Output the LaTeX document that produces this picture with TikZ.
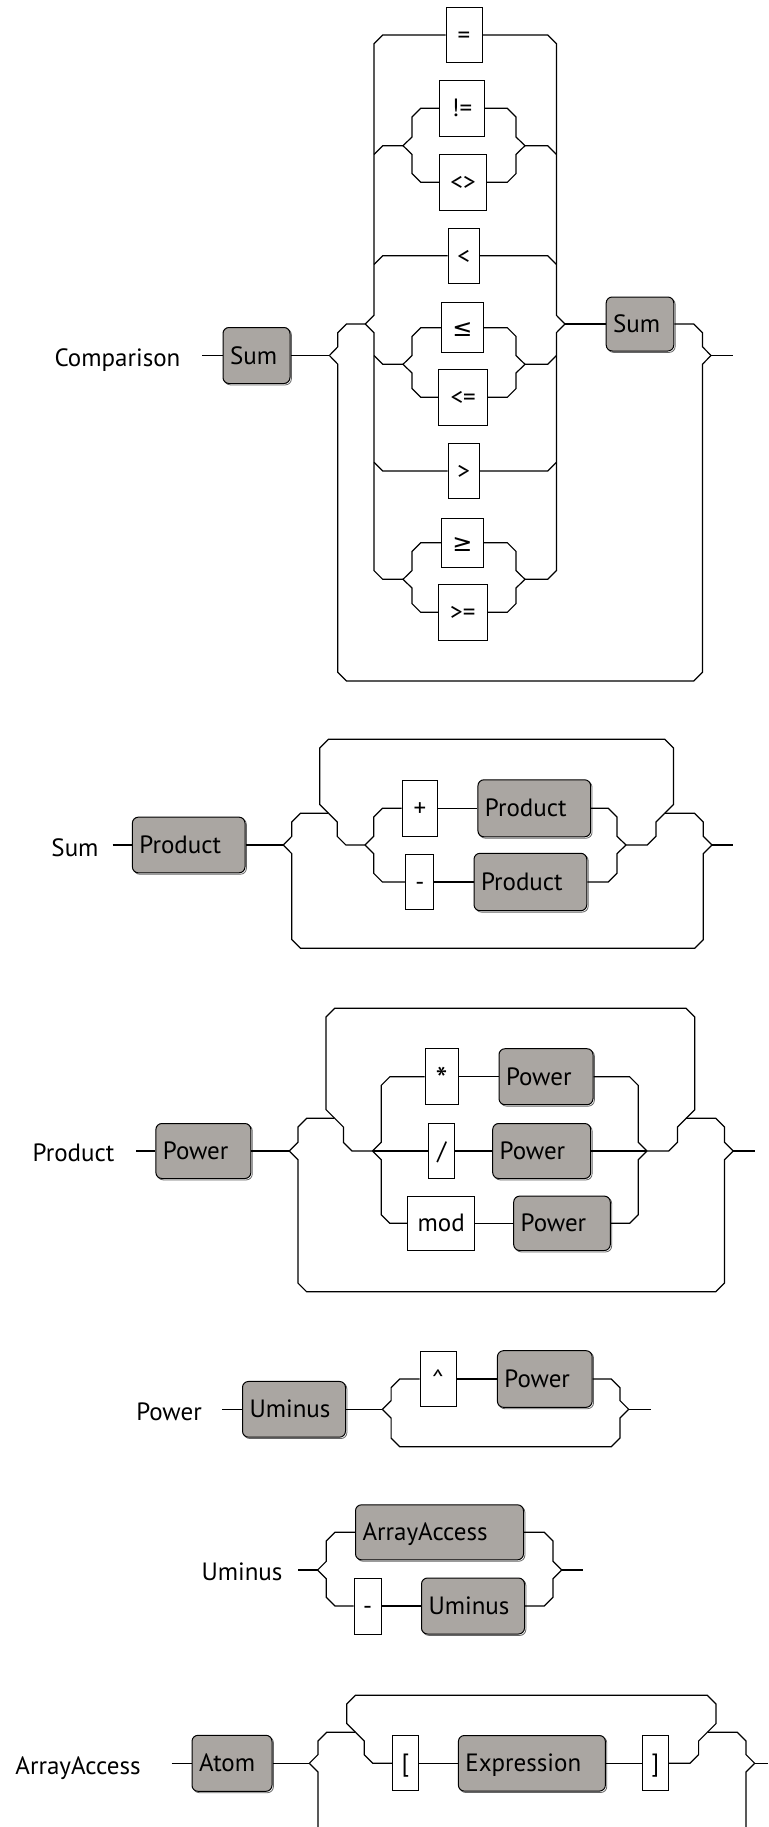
\documentclass[tikz,border=0pt]{standalone}
\usepackage{fontspec}
\setmainfont{PT Sans}
\newfontfamily\symf{DejaVu Sans}
\usetikzlibrary{shadows}
\definecolor{ntgray}{RGB}{170,166,162}
\begin{document}
\begin{tikzpicture}[x=1pt,y=-1pt,
  every node/.style={font=\fontsize{25}{30}\selectfont, inner sep=0pt},
  rail/.style={line width=1.2pt},
  lab/.style={text height=17pt, text depth=0pt},
  termb/.style={draw, fill=white, line width=1pt, text height=17pt, text depth=0pt},
  ntb/.style={draw, fill=ntgray, line width=1pt, rounded corners=6pt, text height=17pt, text depth=0pt,
     copy shadow={shadow xshift=1.4pt, shadow yshift=-1.4pt, draw=black!60, fill=white, line width=0.8pt}},
  tbox/.style 2 args={termb, minimum width=#1pt, minimum height=#2pt},
  nbox/.style 2 args={ntb, minimum width=#1pt, minimum height=#2pt, text width=#1pt-14pt, inner xsep=7pt, align=left},
]
\useasboundingbox (0,0) rectangle (768,1827);
\clip (0,0) rectangle (768,1827);
\fill[white] (0,0) rectangle (768,1827);

%%%%%%%%%%%%%%%% Comparison
\node[lab] (labComp) at (117.5,358) {Comparison};
\coordinate (cStart) at (202,355.5);
\node[nbox={67}{56}] (cSum1) at (256.5,355.5) {Sum};
\coordinate (cO1) at (329.4,355.5);
\coordinate (cI1) at (365.2,324);
\coordinate (cI2) at (565,324);
\node[nbox={67.6}{54}] (cSum2) at (640,324) {Sum};
\coordinate (cO2) at (711,355.5);
\coordinate (cEnd) at (733,355.5);

\node[tbox={36}{55}] (cEq) at (464,35) {=};
\node[tbox={44.6}{56}] (cNe) at (462,108.3) {!=};
\node[tbox={46.6}{55.7}] (cLg) at (463,182.3) {<>};
\node[tbox={31.4}{55}] (cLt) at (463.7,255.7) {<};
\node[tbox={41.6}{50}] (cLe) at (462.5,327.7) {{\symf\fontsize{24}{28}\selectfont ≤}};
\node[tbox={49}{55.7}] (cLe2) at (463.2,397.3) {<=};
\node[tbox={31.4}{55}] (cGt) at (463.7,471) {>};
\node[tbox={41.6}{48.7}] (cGe) at (462.5,542.7) {{\symf\fontsize{24}{28}\selectfont ≥}};
\node[tbox={49}{56}] (cGe2) at (462.8,612.3) {>=};

\coordinate (neL) at (403,145.7); \coordinate (neR) at (525,145.7);
\coordinate (leL) at (403,364.3); \coordinate (leR) at (525,364.3);
\coordinate (geL) at (403,579.3); \coordinate (geR) at (525,579.3);

\draw[rail] (cStart) -- (cSum1.west);
\draw[rail] (cSum1.east) -- (cO1);
\draw[rail] (cO1) -- (337.8,346.8) -- (337.8,332.7) -- (346.5,324) -- (cI1);
\draw[rail] (cO1) -- (337.8,364.2) -- (337.8,672.3) -- (346.5,681) -- (693.8,681) -- (702.5,672.3) -- (702.5,364.2) -- (cO2);
\draw[rail] (cI2) -- (cSum2.west);
\draw[rail] (cSum2.east) -- (693.8,324) -- (702.5,332.7) -- (702.5,346.8) -- (cO2);
\draw[rail] (cO2) -- (cEnd);

\draw[rail] (cI1) -- (374,315.3) -- (374,43.7) -- (382.7,35) -- (cEq.west);
\draw[rail] (cEq.east) -- (547.7,35) -- (556.4,43.7) -- (556.4,315.3) -- (cI2);
\draw[rail] (cI1) -- (374,332.7) -- (374,570.6) -- (382.7,579.3) -- (geL);
\draw[rail] (geR) -- (547.7,579.3) -- (556.4,570.6) -- (556.4,332.7) -- (cI2);
\draw[rail] (374,154.4) -- (382.7,145.7) -- (neL);
\draw[rail] (neR) -- (547.7,145.7) -- (556.4,154.4);
\draw[rail] (374,264.4) -- (382.7,255.7) -- (cLt.west);
\draw[rail] (cLt.east) -- (547.7,255.7) -- (556.4,264.4);
\draw[rail] (374,355.6) -- (382.7,364.3) -- (leL);
\draw[rail] (leR) -- (547.7,364.3) -- (556.4,355.6);
\draw[rail] (374,462.3) -- (382.7,471) -- (cGt.west);
\draw[rail] (cGt.east) -- (547.7,471) -- (556.4,462.3);

\draw[rail] (neL) -- (412,137) -- (412,117) -- (420.7,108.3) -- (cNe.west);
\draw[rail] (cNe.east) -- (507.3,108.3) -- (516,117) -- (516,137) -- (neR);
\draw[rail] (neL) -- (412,154.4) -- (412,173.6) -- (420.7,182.3) -- (cLg.west);
\draw[rail] (cLg.east) -- (507.3,182.3) -- (516,173.6) -- (516,154.4) -- (neR);

\draw[rail] (leL) -- (412,355.6) -- (412,336.4) -- (420.7,327.7) -- (cLe.west);
\draw[rail] (cLe.east) -- (507.3,327.7) -- (516,336.4) -- (516,355.6) -- (leR);
\draw[rail] (leL) -- (412,373) -- (412,388.6) -- (420.7,397.3) -- (cLe2.west);
\draw[rail] (cLe2.east) -- (507.3,397.3) -- (516,388.6) -- (516,373) -- (leR);

\draw[rail] (geL) -- (412,570.6) -- (412,551.4) -- (420.7,542.7) -- (cGe.west);
\draw[rail] (cGe.east) -- (507.3,542.7) -- (516,551.4) -- (516,570.6) -- (geR);
\draw[rail] (geL) -- (412,588) -- (412,603.6) -- (420.7,612.3) -- (cGe2.west);
\draw[rail] (cGe2.east) -- (507.3,612.3) -- (516,603.6) -- (516,588) -- (geR);

%%%%%%%%%%%%%%%% Sum
\node[lab] (labSum) at (75,847.5) {Sum};
\coordinate (sStart) at (112.7,845);
\node[nbox={112.6}{55.7}] (sP1) at (188.7,845) {Product};
\coordinate (sO1) at (283.3,845);
\coordinate (sJ1) at (328.5,813.3);
\coordinate (sI1) at (365,845);
\node[tbox={35.7}{56}] (sPlus) at (419.9,808.3) {+};
\node[nbox={112.7}{57}] (sP2) at (534.3,808.3) {Product};
\node[tbox={28}{55.3}] (sMinus) at (419.9,882) {-};
\node[nbox={112.8}{57.4}] (sP3) at (530.4,882) {Product};
\coordinate (sI2) at (626,845);
\coordinate (sJ2) at (664.7,813.3);
\coordinate (sO2) at (712,845);
\coordinate (sEnd) at (733.3,845);

\draw[rail] (sStart) -- (sP1.west);
\draw[rail] (sP1.east) -- (sO1);
\draw[rail] (sO1) -- (291.8,836.3) -- (291.8,822) -- (300.5,813.3) -- (sJ1);
\draw[rail] (sO1) -- (291.8,853.7) -- (291.8,939.6) -- (300.5,948.3) -- (694.6,948.3) -- (703.3,939.6) -- (703.3,853.7) -- (sO2);
\draw[rail] (sJ1) -- (319.8,804.6) -- (319.8,748) -- (328.5,739.3) -- (664.7,739.3) -- (673.4,748) -- (673.4,804.6) -- (sJ2);
\draw[rail] (sJ1) -- (337.2,822) -- (337.2,836.3) -- (345.9,845) -- (sI1);
\draw[rail] (sI2) -- (647.3,845) -- (656,836.3) -- (656,822) -- (sJ2);
\draw[rail] (sJ2) -- (694.6,813.3) -- (703.3,822) -- (703.3,836.3) -- (sO2);
\draw[rail] (sO2) -- (sEnd);
\draw[rail] (sI1) -- (373.7,836.3) -- (373.7,817) -- (382.4,808.3) -- (sPlus.west);
\draw[rail] (sPlus.east) -- (sP2.west);
\draw[rail] (sP2.east) -- (608.3,808.3) -- (617,817) -- (617,836.3) -- (sI2);
\draw[rail] (sI1) -- (373.7,853.7) -- (373.7,873.3) -- (382.4,882) -- (sMinus.west);
\draw[rail] (sMinus.east) -- (sP3.west);
\draw[rail] (sP3.east) -- (608.3,882) -- (617,873.3) -- (617,853.7) -- (sI2);

%%%%%%%%%%%%%%%% Product
\node[lab] (labProd) at (73.5,1153) {Product};
\coordinate (pStart) at (136.3,1151);
\node[nbox={95}{55}] (pP1) at (203.4,1151) {Power};
\coordinate (pO1) at (289.2,1151);
\coordinate (pJ1) at (334.7,1118.3);
\coordinate (pI1) at (372.5,1151);
\node[tbox={33.3}{55.7}] (pMul) at (441.7,1076.7) {\raisebox{-6pt}{\fontsize{34}{34}\selectfont *}};
\node[nbox={94}{56}] (pP2) at (546,1076.7) {Power};
\node[tbox={25.5}{54.6}] (pDiv) at (441.7,1151) {/};
\node[nbox={98}{55}] (pP3) at (541.7,1151) {Power};
\node[tbox={66.7}{54.3}] (pMod) at (441.2,1223.3) {mod};
\node[nbox={96.6}{54.4}] (pP4) at (562,1223.3) {Power};
\coordinate (pI2) at (647,1151);
\coordinate (pJ2) at (686.1,1118.3);
\coordinate (pO2) at (733.2,1151);
\coordinate (pEnd) at (755,1151);

\draw[rail] (pStart) -- (pP1.west);
\draw[rail] (pP1.east) -- (pO1);
\draw[rail] (pO1) -- (297.9,1142.3) -- (297.9,1127) -- (306.6,1118.3) -- (pJ1);
\draw[rail] (pO1) -- (297.9,1159.7) -- (297.9,1283) -- (306.6,1291.7) -- (715.8,1291.7) -- (724.5,1283) -- (724.5,1159.7) -- (pO2);
\draw[rail] (pJ1) -- (326,1109.6) -- (326,1017) -- (334.7,1008.3) -- (686.1,1008.3) -- (694.8,1017) -- (694.8,1109.6) -- (pJ2);
\draw[rail] (pJ1) -- (343.4,1127) -- (343.4,1142.3) -- (352.1,1151) -- (pI1);
\draw[rail] (pI2) -- (668.7,1151) -- (677.4,1142.3) -- (677.4,1127) -- (pJ2);
\draw[rail] (pJ2) -- (715.8,1118.3) -- (724.5,1127) -- (724.5,1142.3) -- (pO2);
\draw[rail] (pO2) -- (pEnd);
\draw[rail] (pI1) -- (pDiv.west);
\draw[rail] (pDiv.east) -- (pP3.west);
\draw[rail] (pP3.east) -- (pI2);
\draw[rail] (pI1) -- (381.2,1142.3) -- (381.2,1085.4) -- (389.9,1076.7) -- (pMul.west);
\draw[rail] (pMul.east) -- (pP2.west);
\draw[rail] (pP2.east) -- (629.6,1076.7) -- (638.3,1085.4) -- (638.3,1142.3) -- (pI2);
\draw[rail] (pI1) -- (381.2,1159.7) -- (381.2,1214.6) -- (389.9,1223.3) -- (pMod.west);
\draw[rail] (pMod.east) -- (pP4.west);
\draw[rail] (pP4.east) -- (629.6,1223.3) -- (638.3,1214.6) -- (638.3,1159.7) -- (pI2);

%%%%%%%%%%%%%%%% Power
\node[lab] (labPow) at (169,1412) {Power};
\coordinate (wStart) at (222,1409.3);
\node[nbox={103}{55.7}] (wU) at (294,1409.3) {Uminus};
\coordinate (wO1) at (382.4,1409.3);
\node[tbox={36}{55.3}] (wHat) at (438,1379) {\textasciicircum};
\node[nbox={94.7}{56.6}] (wP) at (544.8,1379) {Power};
\coordinate (wO2) at (628.7,1409.3);
\coordinate (wEnd) at (651,1409.3);

\draw[rail] (wStart) -- (wU.west);
\draw[rail] (wU.east) -- (wO1);
\draw[rail] (wO1) -- (391.1,1400.6) -- (391.1,1387.7) -- (399.8,1379) -- (wHat.west);
\draw[rail] (wHat.east) -- (wP.west);
\draw[rail] (wP.east) -- (611.3,1379) -- (620,1387.7) -- (620,1400.6) -- (wO2);
\draw[rail] (wO1) -- (391.1,1418) -- (391.1,1438) -- (399.8,1446.7) -- (611.3,1446.7) -- (620,1438) -- (620,1418) -- (wO2);
\draw[rail] (wO2) -- (wEnd);

%%%%%%%%%%%%%%%% Uminus
\node[lab] (labUm) at (242,1571.5) {Uminus};
\coordinate (uStart) at (298,1570);
\coordinate (uO1) at (317.6,1570);
\node[nbox={168}{55}] (uAA) at (439.5,1532.3) {ArrayAccess};
\node[tbox={27.4}{56}] (uMinus) at (367.7,1606) {-};
\node[nbox={103}{56}] (uU) at (473,1606) {Uminus};
\coordinate (uO2) at (561.7,1570);
\coordinate (uEnd) at (583.3,1570);

\draw[rail] (uStart) -- (uO1);
\draw[rail] (uO1) -- (326.3,1561.3) -- (326.3,1541) -- (335,1532.3) -- (uAA.west);
\draw[rail] (uAA.east) -- (544.3,1532.3) -- (553,1541) -- (553,1561.3) -- (uO2);
\draw[rail] (uO1) -- (326.3,1578.7) -- (326.3,1597.3) -- (335,1606) -- (uMinus.west);
\draw[rail] (uMinus.east) -- (uU.west);
\draw[rail] (uU.east) -- (544.3,1606) -- (553,1597.3) -- (553,1578.7) -- (uO2);
\draw[rail] (uO2) -- (uEnd);

%%%%%%%%%%%%%%%% ArrayAccess
\node[lab] (labAA) at (78,1766) {ArrayAccess};
\coordinate (aStart) at (171.6,1763.3);
\node[nbox={80}{56}] (aAtom) at (232,1763.3) {Atom};
\coordinate (aO1) at (309.3,1763.3);
\coordinate (aJ1) at (355.5,1732.3);
\node[tbox={26}{55}] (aLb) at (405.5,1763.3) {[};
\node[nbox={147}{55.6}] (aExp) at (531.9,1763.3) {Expression};
\node[tbox={25.6}{55}] (aRb) at (655.5,1763.3) {]};
\coordinate (aJ2) at (707.3,1732.3);
\coordinate (aO2) at (754.7,1763.3);
\coordinate (aEnd) at (768,1763.3);
\coordinate (aB1) at (318,1830);
\coordinate (aB2) at (746,1830);

\draw[rail] (aStart) -- (aAtom.west);
\draw[rail] (aAtom.east) -- (aO1);
\draw[rail] (aO1) -- (318,1754.6) -- (318,1741) -- (326.7,1732.3) -- (aJ1);
\draw[rail] (aO1) -- (318,1772) -- (aB1);
\draw[rail] (aJ1) -- (346.8,1723.6) -- (346.8,1704) -- (355.5,1695.3) -- (707.3,1695.3) -- (716,1704) -- (716,1723.6) -- (aJ2);
\draw[rail] (aJ1) -- (364.2,1741) -- (364.2,1754.6) -- (372.9,1763.3) -- (aLb.west);
\draw[rail] (aLb.east) -- (aExp.west);
\draw[rail] (aExp.east) -- (aRb.west);
\draw[rail] (aRb.east) -- (689.9,1763.3) -- (698.6,1754.6) -- (698.6,1741) -- (aJ2);
\draw[rail] (aJ2) -- (737.3,1732.3) -- (746,1741) -- (746,1754.6) -- (aO2);
\draw[rail] (aO2) -- (746,1772) -- (aB2);
\draw[rail] (aO2) -- (aEnd);
\end{tikzpicture}
\end{document}
